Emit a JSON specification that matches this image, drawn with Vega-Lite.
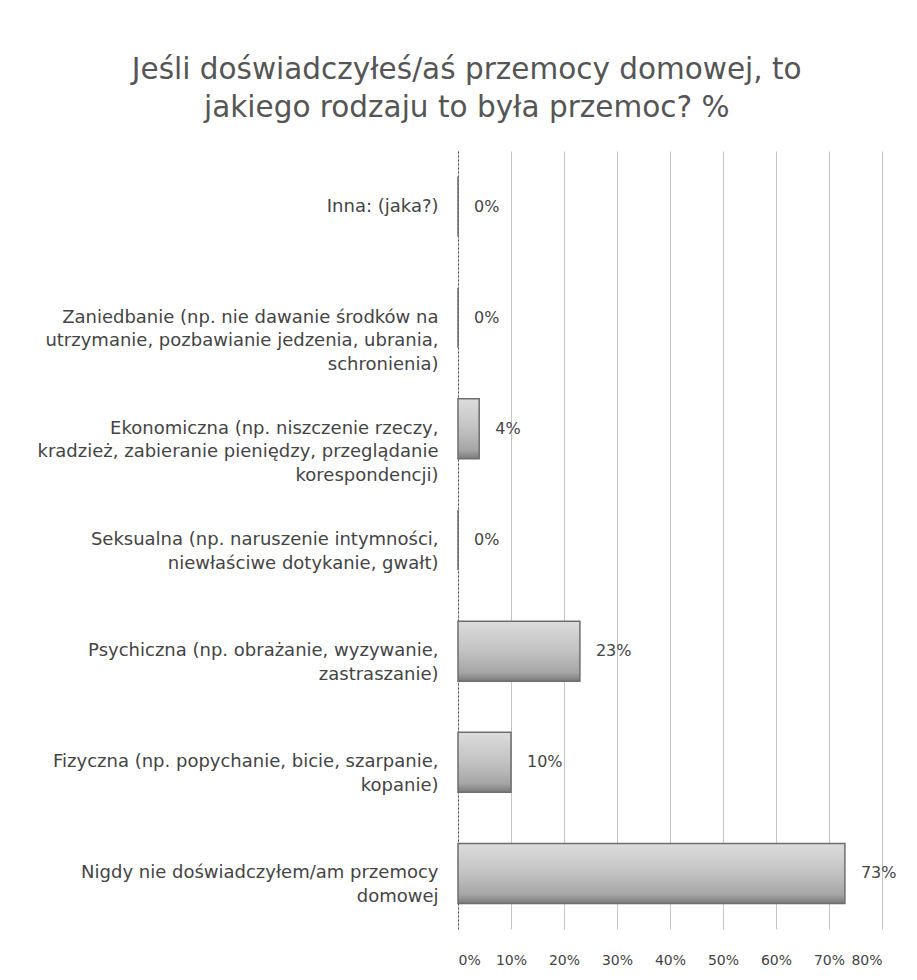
{
  "$schema": "https://vega.github.io/schema/vega-lite/v6.json",
  "width": 424,
  "height": 778,
  "padding": {"left": 36, "top": 54, "right": 20, "bottom": 10},
  "background": "white",
  "title": {
    "text": ["Jeśli doświadczyłeś/aś przemocy domowej, to", "jakiego rodzaju to była przemoc? %"],
    "font": "DejaVu Sans",
    "fontSize": 29.5,
    "fontWeight": "normal",
    "color": "#555555",
    "lineHeight": 38,
    "anchor": "middle",
    "frame": "bounds",
    "offset": 28
  },
  "data": {
    "values": [
      {"label": "Inna: (jaka?)", "value": 0},
      {"label": "Zaniedbanie (np. nie dawanie środków na|utrzymanie, pozbawianie jedzenia, ubrania,|schronienia)", "value": 0},
      {"label": "Ekonomiczna (np. niszczenie rzeczy,|kradzież, zabieranie pieniędzy, przeglądanie|korespondencji)", "value": 0.04},
      {"label": "Seksualna (np. naruszenie intymności,|niewłaściwe dotykanie, gwałt)", "value": 0},
      {"label": "Psychiczna (np. obrażanie, wyzywanie,|zastraszanie)", "value": 0.23},
      {"label": "Fizyczna (np. popychanie, bicie, szarpanie,|kopanie)", "value": 0.10},
      {"label": "Nigdy nie doświadczyłem/am przemocy|domowej", "value": 0.73}
    ]
  },
  "encoding": {
    "y": {
      "field": "label",
      "type": "nominal",
      "sort": null,
      "scale": {"paddingInner": 0.46, "paddingOuter": 0.23},
      "axis": {
        "title": null,
        "labelExpr": "split(datum.label, '|')",
        "labelFont": "DejaVu Sans",
        "labelFontSize": 18,
        "labelColor": "#444444",
        "labelLineHeight": 23.5,
        "labelPadding": 20,
        "labelLimit": 500,
        "ticks": false,
        "domain": true,
        "domainColor": "#555555",
        "domainDash": [2, 2],
        "grid": false
      }
    },
    "x": {
      "field": "value",
      "type": "quantitative",
      "scale": {"domain": [0, 0.8], "nice": false},
      "axis": {
        "title": null,
        "format": ".0%",
        "values": [0, 0.1, 0.2, 0.3, 0.4, 0.5, 0.6, 0.7, 0.8],
        "labelFont": "DejaVu Sans",
        "labelFontSize": 14,
        "labelColor": "#444444",
        "labelPadding": 24,
        "ticks": false,
        "domain": false,
        "grid": true,
        "gridColor": "#c4c4c4",
        "gridWidth": 1
      }
    }
  },
  "layer": [
    {
      "mark": {
        "type": "bar",
        "stroke": "#6e6e6e",
        "strokeWidth": 1.5,
        "color": {
          "gradient": "linear",
          "x1": 0, "y1": 0, "x2": 0, "y2": 1,
          "stops": [
            {"offset": 0, "color": "#dcdcdc"},
            {"offset": 0.5, "color": "#c2c2c2"},
            {"offset": 0.85, "color": "#a6a6a6"},
            {"offset": 1, "color": "#7a7a7a"}
          ]
        }
      }
    },
    {
      "mark": {
        "type": "text",
        "align": "left",
        "dx": 16,
        "font": "DejaVu Sans",
        "fontSize": 16,
        "color": "#444444"
      },
      "encoding": {
        "text": {"field": "value", "type": "quantitative", "format": ".0%"}
      }
    }
  ],
  "config": {"view": {"stroke": null}}
}
